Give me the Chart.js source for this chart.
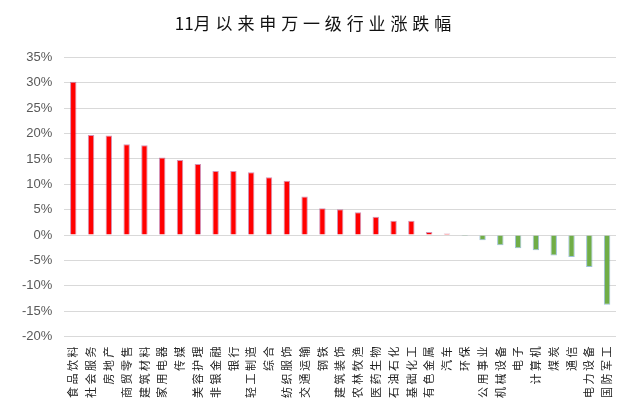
<!DOCTYPE html>
<html>
<head>
<meta charset="utf-8">
<script src="https://cdn.jsdelivr.net/npm/chart.js@4"></script>
<style>
    html, body { margin: 0; padding: 0; background: #ffffff; }
    #chartContainer { width: 640px; height: 405px; }
</style>
</head>
<body>
<div id="chartContainer">
    <canvas id="industryChart" width="640" height="405"></canvas>
</div>
<script>
const chartTitle = '11月以来申万一级行业涨跌幅';

const industries = [
    '食品饮料', '社会服务', '房地产', '商贸零售', '建筑材料', '家用电器', '传媒', '美容护理',
    '非银金融', '银行', '轻工制造', '综合', '纺织服饰', '交通运输', '钢铁', '建筑装饰',
    '农林牧渔', '医药生物', '石油石化', '基础化工', '有色金属', '汽车', '环保', '公用事业',
    '机械设备', '电子', '计算机', '煤炭', '通信', '电力设备', '国防军工'
];

// percent change since November
const changes = [
    30.2, 19.7, 19.6, 17.9, 17.7, 15.3, 14.8, 14.0,
    12.6, 12.6, 12.4, 11.4, 10.7, 7.6, 5.3, 5.1,
    4.5, 3.6, 2.8, 2.8, 0.6, 0.3, -0.2, -1.0,
    -2.0, -2.6, -3.0, -4.0, -4.3, -6.3, -13.7
];

const yTicks = [-20, -15, -10, -5, 0, 5, 10, 15, 20, 25, 30, 35];

// the original spreads the characters apart
const titleText = '11月' + chartTitle.slice(3).split('').map((c) => ' \u200A' + c).join('');

const ctx = document.getElementById('industryChart').getContext('2d');

new Chart(ctx, {
    type: 'bar',
    data: {
        labels: industries.map((name) => name.split('').join(' ')),
        datasets: [{
            label: chartTitle,
            data: changes,
            backgroundColor: changes.map((v) => v >= 0 ? '#ff0000' : '#70ad47'),
            borderColor: changes.map((v) => v >= 0 ? 'rgba(170,40,110,0.5)' : 'rgba(90,150,190,0.6)'),
            borderWidth: 1,
            barPercentage: 0.36,
            categoryPercentage: 1,
        }]
    },
    options: {
        responsive: false,
        animation: false,
        layout: {
            padding: { left: 10, right: 24, top: 0, bottom: 5 }
        },
        plugins: {
            legend: { display: false },
            tooltip: { enabled: false },
            title: {
                display: true,
                text: titleText,
                color: '#111111',
                font: { family: '"Noto Sans CJK SC", sans-serif', size: 17, weight: 'normal' },
                padding: { top: 13, bottom: 24 }
            }
        },
        scales: {
            x: {
                grid: { display: false },
                border: { display: false },
                ticks: {
                    autoSkip: false,
                    minRotation: 90,
                    maxRotation: 90,
                    padding: 2,
                    color: '#222222',
                    font: { family: '"Noto Sans CJK SC", sans-serif', size: 11 }
                }
            },
            y: {
                min: yTicks[0],
                max: yTicks[yTicks.length - 1],
                afterBuildTicks: (axis) => {
                    axis.ticks = yTicks.map((v) => ({ value: v }));
                },
                grid: { color: '#d9d9d9', drawTicks: false },
                border: { display: false },
                ticks: {
                    padding: 12,
                    color: '#595959',
                    font: { family: '"Liberation Sans", Arial, sans-serif', size: 13 },
                    callback: (value) => `${value}%`
                }
            }
        }
    }
});
</script>
</body>
</html>
